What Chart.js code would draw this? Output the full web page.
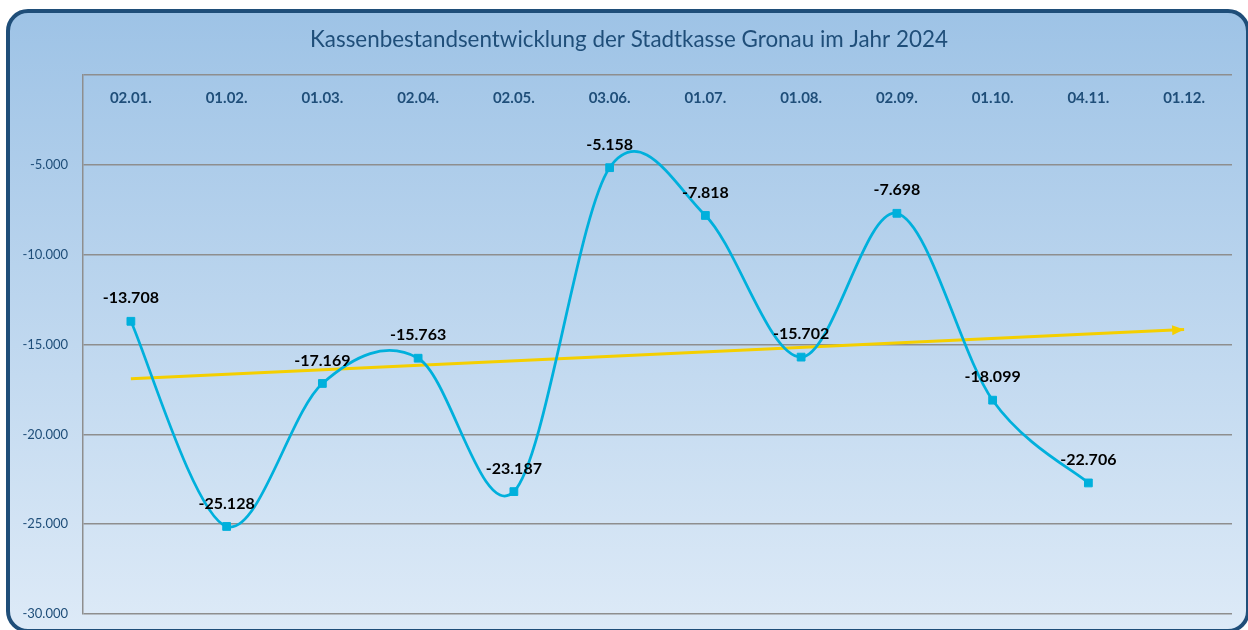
<!DOCTYPE html>
<html>
<head>
<meta charset="utf-8">
<script src="https://cdn.jsdelivr.net/npm/chart.js@4.4.1/dist/chart.umd.min.js"></script>
<style>
  html, body { margin: 0; padding: 0; background: #fff; width: 1248px; height: 630px; overflow: hidden; }
  #frame {
    position: absolute; left: 6px; top: 9px; width: 1236px; height: 616px;
    border: 4px solid #1F4E79; border-radius: 22px;
    background: linear-gradient(#9EC3E6, #DDEAF7);
  }
  #c { position: absolute; left: 0; top: 0; }
</style>
</head>
<body>
<div id="frame"></div>
<canvas id="c" width="1248" height="630"></canvas>
<script>
// Stichtage (Kategorien) und Kassenbestand in Euro
const categories = ['02.01.', '01.02.', '01.03.', '02.04.', '02.05.', '03.06.', '01.07.', '01.08.', '02.09.', '01.10.', '04.11.', '01.12.'];
const balances = [-13708, -25128, -17169, -15763, -23187, -5158, -7818, -15702, -7698, -18099, -22706];
// Trendlinie: Start- und Endwert
const trendValues = [-16900, -14170];
const yTicks = [0, -5000, -10000, -15000, -20000, -25000, -30000];

const chartTitle = 'Kassenbestandsentwicklung der Stadtkasse Gronau im Jahr 2024';
const darkBlue = '#1F4E79';
const lineColor = '#00B0DC';
const trendColor = '#F4CF00';

function fmt(v) {
  const s = Math.abs(v).toString().replace(/\B(?=(\d{3})+(?!\d))/g, '.');
  return (v < 0 ? '-' : '') + s;
}

// Glättung wie in Excel: Kontrollpunkte nach Catmull-Rom (1/6 der Nachbardifferenz)
const excelSmoothing = {
  id: 'excelSmoothing',
  beforeDatasetDraw(chart, args) {
    if (args.index !== 0) return;
    const line = args.meta.dataset;
    if (line.updateControlPoints) line.updateControlPoints(chart.chartArea, 'x');
    const pts = args.meta.data;
    pts.forEach((p, i) => {
      const prev = pts[Math.max(i - 1, 0)];
      const next = pts[Math.min(i + 1, pts.length - 1)];
      const tx = (next.x - prev.x) / 6, ty = (next.y - prev.y) / 6;
      p.cp1x = p.x - tx; p.cp1y = p.y - ty;
      p.cp2x = p.x + tx; p.cp2y = p.y + ty;
    });
    delete line._path;
  }
};

// Titel, Datumsbeschriftungen, Datenbeschriftungen und Pfeilspitze
const decorations = {
  id: 'decorations',
  afterDraw(chart) {
    const ctx = chart.ctx;
    const x = chart.scales.x;

    ctx.save();
    ctx.fillStyle = darkBlue;
    ctx.font = '22.4px Lato';
    ctx.textAlign = 'center';
    ctx.textBaseline = 'middle';
    ctx.fillText(chartTitle, 629, 40);

    ctx.font = 'bold 15px Lato';
    categories.forEach((c, i) => {
      ctx.fillText(c, x.getPixelForValue(i), 98);
    });

    // Pfeil am Ende der Trendlinie
    const tp = chart.getDatasetMeta(1).data;
    const a = tp[tp.length - 2], b = tp[tp.length - 1];
    const ang = Math.atan2(b.y - a.y, b.x - a.x);
    ctx.fillStyle = trendColor;
    ctx.beginPath();
    ctx.moveTo(b.x, b.y);
    ctx.lineTo(b.x - 12 * Math.cos(ang) + 5 * Math.sin(ang), b.y - 12 * Math.sin(ang) - 5 * Math.cos(ang));
    ctx.lineTo(b.x - 12 * Math.cos(ang) - 5 * Math.sin(ang), b.y - 12 * Math.sin(ang) + 5 * Math.cos(ang));
    ctx.closePath();
    ctx.fill();

    ctx.fillStyle = '#000';
    ctx.font = 'bold 16px Lato';
    chart.getDatasetMeta(0).data.forEach((pt, i) => {
      ctx.fillText(fmt(balances[i]), pt.x, pt.y - 23);
    });
    ctx.restore();
  }
};

new Chart(document.getElementById('c'), {
  type: 'line',
  data: {
    labels: categories,
    datasets: [
      {
        data: balances,
        borderColor: lineColor,
        backgroundColor: lineColor,
        borderWidth: 2.75,
        tension: 0.4,
        pointStyle: 'rect',
        pointRadius: 5.5,
        pointBorderWidth: 1,
        pointBorderColor: lineColor,
        pointBackgroundColor: lineColor
      },
      {
        data: [
          { x: categories[0], y: trendValues[0] },
          { x: categories[categories.length - 1], y: trendValues[1] }
        ],
        borderColor: trendColor,
        borderWidth: 3,
        pointRadius: 0,
        tension: 0
      }
    ]
  },
  options: {
    responsive: false,
    animation: false,
    layout: { padding: { left: 0, top: 75, right: 16, bottom: 16 } },
    plugins: {
      legend: { display: false },
      tooltip: { enabled: false },
      title: { display: false }
    },
    scales: {
      x: {
        display: false,
        offset: true
      },
      y: {
        min: -30000,
        max: 0,
        afterFit(scale) {
          scale.width = 83;
          scale.paddingTop = 0;
          scale.paddingBottom = 0;
        },
        afterBuildTicks(scale) { scale.ticks = yTicks.map(v => ({ value: v })); },
        grid: { color: '#8E8E8E', lineWidth: 1.5, drawTicks: false },
        border: { display: true, color: '#8E8E8E', width: 1.5 },
        ticks: {
          padding: 15,
          color: darkBlue,
          font: { family: 'Lato', size: 13 },
          callback: v => (v === 0 ? '' : fmt(v))
        }
      }
    }
  },
  plugins: [excelSmoothing, decorations]
});
</script>
</body>
</html>
